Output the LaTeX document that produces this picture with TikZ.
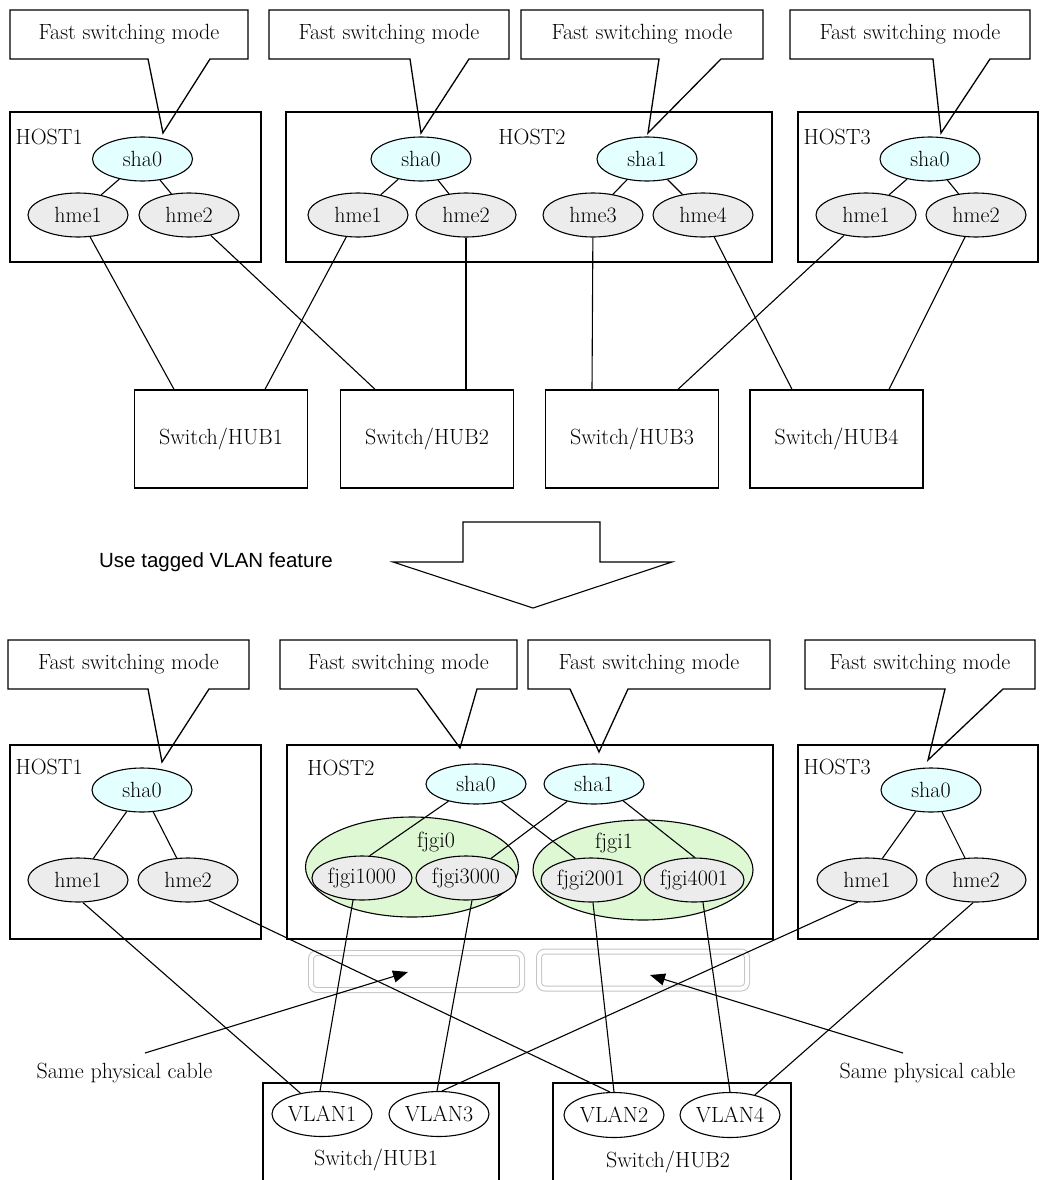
\documentclass[tikz,border=0pt]{standalone}
\usepackage{fontspec}
\newfontfamily\notesans{Liberation Sans}
\usetikzlibrary{shapes.geometric,arrows.meta}

\definecolor{shafill}{RGB}{228,255,255}
\definecolor{hmefill}{RGB}{236,236,236}
\definecolor{grpfill}{RGB}{222,248,212}
\definecolor{cablegray}{RGB}{196,196,196}

\begin{document}
\begin{tikzpicture}[x=1pt,y=-1pt,line width=1.1pt,
    every node/.style={font=\fontsize{22}{26}\selectfont},
    fsm/.style={inner sep=0pt,outer sep=0pt,minimum height=49pt},
    callout/.style={line width=1.3pt},
    hostbox/.style={draw,line width=1.4pt,inner sep=0pt,outer sep=0pt},
    hostlbl/.style={inner sep=0pt},
    shanode/.style={ellipse,draw,fill=shafill,minimum width=100pt,minimum height=44pt,inner xsep=-4pt,inner ysep=0pt},
    hmenode/.style={shanode,fill=hmefill},
    grpnode/.style={ellipse,draw,fill=grpfill,minimum height=100pt},
    vlannode/.style={shanode,fill=white,minimum height=45pt},
    swbox/.style={draw,line width=1.4pt,minimum width=173pt,minimum height=98pt},
    cablebox/.style={draw=cablegray,double=white,double distance=4pt,line width=1pt,rounded corners=6pt,minimum height=37pt},
    pointer/.style={-{Triangle[length=15pt,width=12pt]}}]

    \useasboundingbox (0,0) rectangle (1040,1180);

    % ---------- before: one NIC pair per switch ----------
    \node[hostbox,minimum width=251pt,minimum height=150pt] (uh1) at (135.5,187) {};
    \node[hostbox,minimum width=486pt,minimum height=150pt] (uh2) at (529,187) {};
    \node[hostbox,minimum width=240pt,minimum height=150pt] (uh3) at (918,187) {};
    \node[hostlbl,anchor=west] (uh1lbl) at (15,137) {HOST1};
    \node[hostlbl] (uh2lbl) at (532,137) {HOST2};
    \node[hostlbl,anchor=west] (uh3lbl) at (803,137) {HOST3};

    % callouts
    \foreach \n/\cx/\w/\ba/\bb/\tx in {1/129/238/148/210/163, 2/389/240/410/469/421,
                                      3/642/242/659/721/648, 4/910/240/933/990/941}{
        \node[fsm,minimum width=\w pt] (ua\n) at (\cx,34.5) {Fast switching mode};
        \draw[callout] (ua\n.south west) -- (ua\n.north west) -- (ua\n.north east)
            -- (ua\n.south east) -- (\bb,59) -- (\tx,133) -- (\ba,59) -- cycle;
    }

    % HOST1
    \node[shanode] (u1sha0) at (142.5,159) {sha0};
    \node[hmenode] (u1hme1) at (78,215) {hme1};
    \node[hmenode] (u1hme2) at (189,215) {hme2};
    % HOST2
    \node[shanode] (u2sha0) at (421,159) {sha0};
    \node[shanode] (u2sha1) at (647,159) {sha1};
    \node[hmenode] (u2hme1) at (358,215) {hme1};
    \node[hmenode] (u2hme2) at (466,215) {hme2};
    \node[hmenode] (u2hme3) at (593,215) {hme3};
    \node[hmenode] (u2hme4) at (703,215) {hme4};
    % HOST3
    \node[shanode] (u3sha0) at (930,159) {sha0};
    \node[hmenode] (u3hme1) at (866,215) {hme1};
    \node[hmenode] (u3hme2) at (976,215) {hme2};

    \draw (u1sha0) -- (u1hme1);
    \draw (u1sha0) -- (u1hme2);
    \draw (u2sha0) -- (u2hme1);
    \draw (u2sha0) -- (u2hme2);
    \draw (u2sha1) -- (u2hme3);
    \draw (u2sha1) -- (u2hme4);
    \draw (u3sha0) -- (u3hme1);
    \draw (u3sha0) -- (u3hme2);

    % switches
    \node[swbox] (usw1) at (221,439) {Switch/HUB1};
    \node[swbox] (usw2) at (427,439) {Switch/HUB2};
    \node[swbox] (usw3) at (632,439) {Switch/HUB3};
    \node[swbox] (usw4) at (836.5,439) {Switch/HUB4};

    \draw (u1hme1) -- ([xshift=-47pt]usw1.north);
    \draw (u1hme2) -- ([xshift=-52pt]usw2.north);
    \draw (u2hme1) -- ([xshift=44pt]usw1.north);
    \draw (u2hme2) -- ([xshift=39pt]usw2.north);
    \draw (u2hme3) -- ([xshift=-40pt]usw3.north);
    \draw (u2hme4) -- ([xshift=-44.5pt]usw4.north);
    \draw (u3hme1) -- ([xshift=46pt]usw3.north);
    \draw (u3hme2) -- ([xshift=52.5pt]usw4.north);

    % ---------- big arrow ----------
    \node[font=\notesans\fontsize{20.5}{24}\selectfont] (vlannote) at (216,562) {Use tagged VLAN feature};
    \draw (393,562) -- (463,562) -- (463,522) -- (600,522) -- (600,562) -- (672,562) -- (533,608) -- cycle;

    % ---------- after: tagged VLAN ----------
    \node[hostbox,minimum width=251pt,minimum height=194pt] (lh1) at (135.5,842) {};
    \node[hostbox,minimum width=486pt,minimum height=194pt] (lh2) at (530,842) {};
    \node[hostbox,minimum width=240pt,minimum height=194pt] (lh3) at (918,842) {};
    \node[hostlbl,anchor=west] (lh1lbl) at (15,767) {HOST1};
    \node[hostlbl] (lh2lbl) at (341,768) {HOST2};
    \node[hostlbl,anchor=west] (lh3lbl) at (803,767) {HOST3};

    % callouts
    \foreach \n/\cx/\w/\ba/\bb/\tx/\ty in {1/128.5/241/148/209/162/762, 2/398.5/237/417/477/460/748,
                                          3/649/242/570/628/599/752, 4/920/230/945/1003/928/760}{
        \node[fsm,minimum width=\w pt] (la\n) at (\cx,664.5) {Fast switching mode};
        \draw[callout] (la\n.south west) -- (la\n.north west) -- (la\n.north east)
            -- (la\n.south east) -- (\bb,689) -- (\tx,\ty) -- (\ba,689) -- cycle;
    }

    % physical cables
    \node[cablebox,minimum width=211pt] (cab1) at (416.5,971.5) {};
    \node[cablebox,minimum width=208pt] (cab2) at (643,970) {};

    % HOST1
    \node[shanode] (l1sha0) at (142,790) {sha0};
    \node[hmenode] (l1hme1) at (78,880) {hme1};
    \node[hmenode] (l1hme2) at (188,880) {hme2};
    % HOST2
    \node[grpnode,minimum width=213pt] (grp0) at (412,867) {};
    \node[grpnode,minimum width=220pt] (grp1) at (643,870) {};
    \node[hostlbl] (grp0lbl) at (436,842) {fjgi0};
    \node[hostlbl] (grp1lbl) at (614,843) {fjgi1};
    \node[shanode,minimum height=40pt] (l2sha0) at (476,784) {sha0};
    \node[shanode,minimum height=40pt] (l2sha1) at (594,784) {sha1};
    \node[hmenode] (f1000) at (362,878) {fjgi1000};
    \node[hmenode] (f3000) at (466,878) {fjgi3000};
    \node[hmenode] (f2001) at (591,880) {fjgi2001};
    \node[hmenode] (f4001) at (694,880) {fjgi4001};
    % HOST3
    \node[shanode] (l3sha0) at (931,790) {sha0};
    \node[hmenode] (l3hme1) at (867,880) {hme1};
    \node[hmenode] (l3hme2) at (976,880) {hme2};

    \draw (l1sha0) -- (l1hme1);
    \draw (l1sha0) -- (l1hme2);
    \draw (l3sha0) -- (l3hme1);
    \draw (l3sha0) -- (l3hme2);
    \draw (l2sha0.-148) -- (f1000.71);
    \draw (l2sha0.-35) -- (f2001.126);
    \draw (l2sha1.-147) -- (f3000.38);
    \draw (l2sha1.-30) -- (f4001.88);

    % switches
    \node[draw,line width=1.4pt,minimum width=236pt,minimum height=120pt] (lsw1) at (381,1143) {};
    \node[draw,line width=1.4pt,minimum width=238pt,minimum height=120pt] (lsw2) at (672,1143) {};
    \node[hostlbl] (lsw1lbl) at (376,1160) {Switch/HUB1};
    \node[hostlbl] (lsw2lbl) at (668,1162) {Switch/HUB2};
    \node[vlannode] (vlan1) at (322,1114) {VLAN1};
    \node[vlannode] (vlan3) at (439,1114) {VLAN3};
    \node[vlannode] (vlan2) at (614,1115) {VLAN2};
    \node[vlannode] (vlan4) at (730,1115) {VLAN4};

    \draw (l1hme1.-78) -- (vlan1.136);
    \draw (l1hme2.-45) -- (vlan2.100);
    \draw (f1000.-112) -- (vlan1.95);
    \draw (f3000.-75) -- (vlan3.95);
    \draw (f2001.-85) -- (vlan2.90);
    \draw (f4001.-68) -- (vlan4.90);
    \draw (l3hme1.-113) -- (vlan3.83);
    \draw (l3hme2.-97) -- (vlan4.39);

    % same physical cable notes
    \node (samel) at (124.5,1073) {Same physical cable};
    \node (samer) at (927.5,1073) {Same physical cable};
    \coordinate (samelfrom) at (145,1053);
    \coordinate (sameltip) at (408,972);
    \coordinate (samerfrom) at (903,1053);
    \coordinate (samertip) at (650,975);
    \draw[pointer] (samelfrom) -- (sameltip);
    \draw[pointer] (samerfrom) -- (samertip);
\end{tikzpicture}
\end{document}
